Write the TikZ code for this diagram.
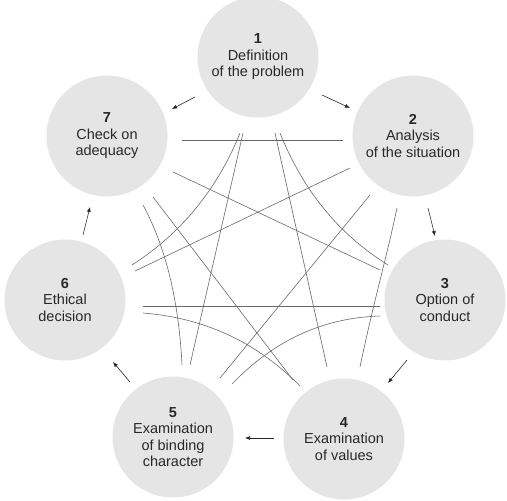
\documentclass[tikz,border=0pt]{standalone}
\usepackage{fontspec}
\setmainfont{Liberation Sans}
\usetikzlibrary{arrows.meta}
\definecolor{circfill}{RGB}{229,229,229}
\definecolor{txt}{RGB}{40,40,40}
\definecolor{webc}{RGB}{105,105,105}
\begin{document}
\begin{tikzpicture}[x=1pt,y=-1pt,
  stage/.style={circle,fill=circfill,draw=none,minimum size=121pt,inner sep=0pt,align=center,text=txt,font=\fontsize{14.5}{16.5}\selectfont},
  web/.style={draw=webc,line width=0.6pt},
  flow/.style={draw=black!85,line width=0.6pt,-{Latex[length=5pt,width=4pt]}}]
\useasboundingbox (0,0) rectangle (507,501);
% stages
\node[stage] (n1) at (258,57) {\textbf{1}\\Definition\\of the problem};
\node[stage] (n2) at (413,136) {\textbf{2}\\Analysis\\of the situation};
\node[stage] (n3) at (445,300) {\textbf{3}\\Option of\\conduct};
\node[stage] (n4) at (344,439) {\textbf{4}\\Examination\\of values};
\node[stage] (n5) at (173,437) {\textbf{5}\\Examination\\of binding\\character};
\node[stage] (n6) at (65,300) {\textbf{6}\\Ethical\\decision};
\node[stage] (n7) at (107,136) {\textbf{7}\\Check on\\adequacy};
% end points of the web
\coordinate (a1) at (240,133); \coordinate (a6) at (132,265);
\coordinate (b1) at (280,133); \coordinate (b3) at (388,265);
\coordinate (c7) at (143,205); \coordinate (c5) at (182,365);
\coordinate (d2) at (397,208); \coordinate (d4) at (360,367);
\coordinate (e6) at (143,313); \coordinate (e4) at (300,386);
\coordinate (f3) at (380,316); \coordinate (f5) at (232,384);
\coordinate (g7) at (182,140); \coordinate (g2) at (343,140);
\coordinate (h6) at (143,306); \coordinate (h3) at (380,306);
\coordinate (i1) at (243,133); \coordinate (i5) at (190,365);
\coordinate (j1) at (275,133); \coordinate (j4) at (327,367);
\coordinate (k7) at (173,172); \coordinate (k3) at (380,270);
\coordinate (l7) at (153,197); \coordinate (l4) at (293,380);
\coordinate (m6) at (135,271); \coordinate (m2) at (350,168);
\coordinate (o2) at (370,195); \coordinate (o5) at (220,378);
% curved links
\draw[web] (a1) .. controls (217.3,189.3) and (181.3,233.3) .. (a6);
\draw[web] (b1) .. controls (302.7,189.3) and (337.3,233.3) .. (b3);
\draw[web] (c7) .. controls (165.8,247.2) and (178.8,300.5) .. (c5);
\draw[web] (d2) .. controls (386,260) and (374,300) .. (d4);
\draw[web] (e6) .. controls (202.6,317.8) and (255,340.5) .. (e4);
\draw[web] (f3) .. controls (323.3,317.7) and (273.9,340.4) .. (f5);
% straight links
\draw[web] (g7) -- (g2);
\draw[web] (h6) -- (h3);
\draw[web] (i1) -- (i5);
\draw[web] (j1) -- (j4);
\draw[web] (k7) -- (k3);
\draw[web] (l7) -- (l4);
\draw[web] (m6) -- (m2);
\draw[web] (o2) -- (o5);
% flow arrows
\coordinate (p1) at (322,95);  \coordinate (p2) at (350,108);
\coordinate (q1) at (195,97);  \coordinate (q7) at (172,109);
\coordinate (r2) at (428,208); \coordinate (r3) at (435,236);
\coordinate (s3) at (407,360); \coordinate (s4) at (388,383);
\coordinate (t4) at (274,438); \coordinate (t5) at (245,438);
\coordinate (u5) at (130,382); \coordinate (u6) at (113,362);
\coordinate (v6) at (83,235);  \coordinate (v7) at (90,207);
\draw[flow] (p1) -- (p2);
\draw[flow] (q1) -- (q7);
\draw[flow] (r2) -- (r3);
\draw[flow] (s3) -- (s4);
\draw[flow] (t4) -- (t5);
\draw[flow] (u5) -- (u6);
\draw[flow] (v6) -- (v7);
\end{tikzpicture}
\end{document}
